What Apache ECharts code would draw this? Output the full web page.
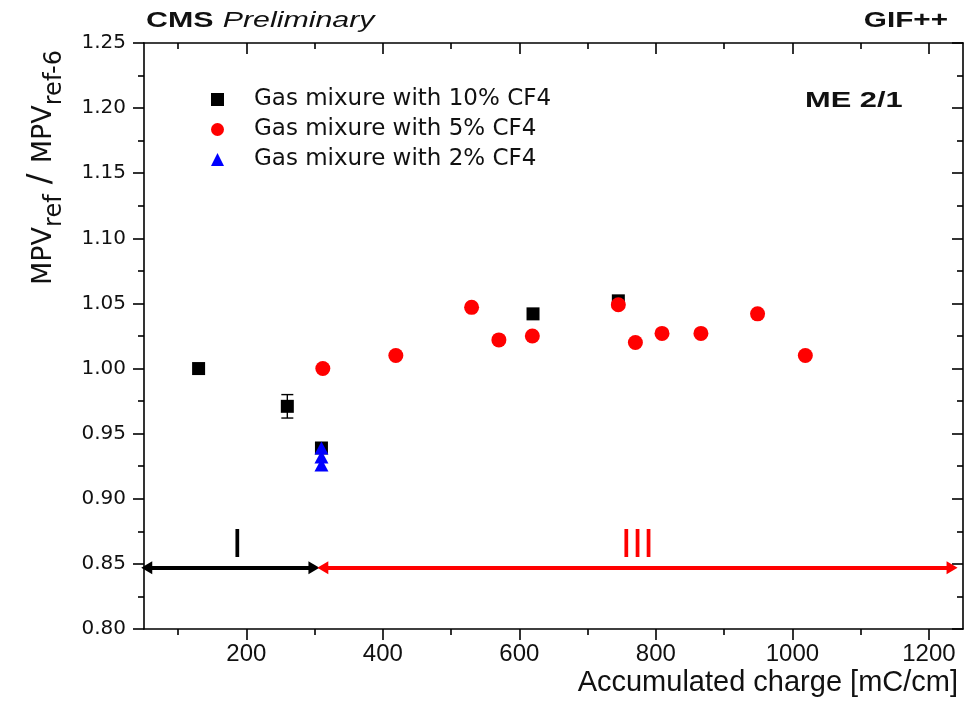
<!DOCTYPE html>
<html>
<head>
<meta charset="utf-8">
<script src="https://cdn.jsdelivr.net/npm/echarts@6/dist/echarts.min.js"></script>
<style>html,body{margin:0;padding:0;background:#fff}#c{width:966px;height:704px}</style>
</head>
<body>
<div id="c"></div>
<script>
// ---- data ----
const xMajorTicks = [200, 400, 600, 800, 1000, 1200];
const xMinorTicks = [100, 300, 500, 700, 900, 1100];
const cf4_10_x = [130, 260, 310, 620, 745];
const cf4_10_y = [1.000, 0.971, 0.939, 1.042, 1.052];
const cf4_10_err = [0, 0.009, 0, 0, 0];
const cf4_5_x = [312, 419, 530, 570, 619, 745, 770, 809, 866, 949, 1019];
const cf4_5_y = [1.000, 1.010, 1.047, 1.022, 1.025, 1.049, 1.020, 1.027, 1.027, 1.042, 1.010];
const cf4_2_x = [310, 310, 310];
const cf4_2_y = [0.939, 0.932, 0.926];
const phaseI = [54, 299];
const phaseIII = [312, 1234];
const phaseY = 0.847;
const seriesNames = ['Gas mixure with 10% CF4', 'Gas mixure with 5% CF4', 'Gas mixure with 2% CF4'];

const FONT = '"Liberation Sans", Arial, sans-serif';
const WFONT = '"DejaVu Sans", "Liberation Sans", sans-serif';
const NFONT = '"Liberation Sans Narrow", "Liberation Sans", Arial, sans-serif';
const zip = (xs, ys) => xs.map((x, i) => [x, ys[i]]);

const chart = echarts.init(document.getElementById('c'), null, {renderer: 'canvas'});
const axisLine = {show: true, onZero: false, lineStyle: {color: '#000', width: 1.6}};
const xCommon = {type: 'value', min: 50, max: 1250, splitLine: {show: false}};
const tickStyle = {color: '#000', width: 1.6};
const option = {
  animation: false,
  backgroundColor: '#fff',
  grid: {left: 144, right: 3, top: 43, bottom: 75, containLabel: false},
  xAxis: [
    Object.assign({}, xCommon, {position: 'bottom', axisLine: axisLine,
      axisTick: {show: true, inside: false, length: 11, customValues: xMajorTicks, lineStyle: tickStyle},
      axisLabel: {show: true, customValues: xMajorTicks, color: '#111', fontFamily: NFONT, fontSize: 24, margin: 13,
        formatter: v => String(v)}}),
    Object.assign({}, xCommon, {position: 'bottom', axisLine: {show: false},
      axisTick: {show: true, inside: false, length: 6, customValues: xMinorTicks, lineStyle: tickStyle},
      axisLabel: {show: false}}),
    Object.assign({}, xCommon, {position: 'top', axisLine: axisLine,
      axisTick: {show: true, inside: true, length: 11, customValues: xMajorTicks, lineStyle: tickStyle},
      axisLabel: {show: false}}),
    Object.assign({}, xCommon, {position: 'top', axisLine: {show: false},
      axisTick: {show: true, inside: true, length: 6, customValues: xMinorTicks, lineStyle: tickStyle},
      axisLabel: {show: false}})
  ],
  yAxis: [
    {type: 'value', position: 'left', min: 0.8, max: 1.25, interval: 0.05, splitLine: {show: false},
     axisLine: axisLine,
     axisTick: {show: true, inside: false, length: 11, lineStyle: tickStyle},
     minorTick: {show: true, splitNumber: 2, length: 6, lineStyle: tickStyle},
     axisLabel: {color: '#111', fontFamily: WFONT, fontSize: 20, margin: 18, formatter: v => v.toFixed(2)}},
    {type: 'value', position: 'right', min: 0.8, max: 1.25, interval: 0.05, splitLine: {show: false},
     axisLine: axisLine,
     axisTick: {show: true, inside: true, length: 11, lineStyle: tickStyle},
     minorTick: {show: true, splitNumber: 2, length: 6, lineStyle: tickStyle},
     axisLabel: {show: false}}
  ],
  legend: {
    orient: 'vertical', left: 206, top: 83, itemGap: 7, itemWidth: 13, itemHeight: 13,
    data: [
      {name: seriesNames[0], icon: 'rect'},
      {name: seriesNames[1], icon: 'circle'},
      {name: seriesNames[2], icon: 'triangle'}
    ],
    textStyle: {color: '#111', fontFamily: WFONT, fontSize: 23, padding: [0, 0, 0, 25]}
  },
  series: [
    {type: 'custom', name: 'err10', silent: true, z: 1,
     data: cf4_10_x.map((x, i) => [x, cf4_10_y[i], cf4_10_err[i]]).filter(d => d[2] > 0),
     renderItem: function (params, api) {
       const x = api.value(0), y = api.value(1), e = api.value(2);
       const top = api.coord([x, y + e]);
       const bot = api.coord([x, y - e]);
       const hw = 6;
       const st = {stroke: '#000', lineWidth: 1.4};
       return {type: 'group', children: [
         {type: 'line', shape: {x1: top[0], y1: top[1], x2: bot[0], y2: bot[1]}, style: st},
         {type: 'line', shape: {x1: top[0] - hw, y1: top[1], x2: top[0] + hw, y2: top[1]}, style: st},
         {type: 'line', shape: {x1: bot[0] - hw, y1: bot[1], x2: bot[0] + hw, y2: bot[1]}, style: st}
       ]};
     }},
    {type: 'scatter', name: seriesNames[0], data: zip(cf4_10_x, cf4_10_y), symbol: 'rect', symbolSize: 13,
     itemStyle: {color: '#000', opacity: 1}, z: 2},
    {type: 'scatter', name: seriesNames[1], data: zip(cf4_5_x, cf4_5_y), symbol: 'circle', symbolSize: 15,
     itemStyle: {color: '#ff0000', opacity: 1}, z: 3},
    {type: 'scatter', name: seriesNames[2], data: zip(cf4_2_x, cf4_2_y), symbol: 'triangle', symbolSize: [14, 13],
     itemStyle: {color: '#0000ff', opacity: 1}, z: 4},
    {type: 'line', name: 'phases', data: [], silent: true,
     markLine: {silent: true, symbol: ['triangle', 'triangle'], symbolSize: [13, 11], animation: false,
       data: [
         [{coord: [phaseI[0], phaseY], lineStyle: {color: '#000', width: 4, type: 'solid'},
           label: {show: true, position: 'middle', formatter: 'I', color: '#000', fontFamily: FONT, fontSize: 40,
             distance: 2, padding: [0, 0, 0, 14]}},
          {coord: [phaseI[1], phaseY]}],
         [{coord: [phaseIII[0], phaseY], lineStyle: {color: '#ff0000', width: 4, type: 'solid'},
           label: {show: true, position: 'middle', formatter: 'III', color: '#ff0000', fontFamily: FONT, fontSize: 40, distance: 2}},
          {coord: [phaseIII[1], phaseY]}]
       ]}}
  ],
  graphic: [
    {type: 'text', x: 146, y: 10, scaleX: 1.38, style: {
      text: '{b|CMS}  {i|Preliminary}', rich: {
        b: {fontFamily: FONT, fontWeight: 'bold', fontSize: 22, fill: '#111'},
        i: {fontFamily: FONT, fontStyle: 'italic', fontSize: 22, fill: '#111'}}}},
    {type: 'text', x: 948, y: 10, scaleX: 1.35, style: {text: 'GIF++', align: 'right', fontFamily: FONT, fontWeight: 'bold', fontSize: 22, fill: '#111'}},
    {type: 'text', x: 805, y: 90, scaleX: 1.4, style: {text: 'ME 2/1', fontFamily: FONT, fontWeight: 'bold', fontSize: 22, fill: '#111'}},
    {type: 'text', x: 958, y: 668, style: {text: 'Accumulated charge [mC/cm]', align: 'right', fontFamily: FONT, fontSize: 29, fill: '#111'}},
    {type: 'text', x: 57, y: 285, rotation: Math.PI / 2, style: {
      text: '{m|MPV}{s|ref}{l| / }{m|MPV}{s|ref-6}', textVerticalAlign: 'bottom', rich: {
        m: {fontFamily: WFONT, fontSize: 27, fill: '#111', verticalAlign: 'bottom'},
        l: {fontFamily: WFONT, fontSize: 32, fill: '#111', verticalAlign: 'bottom'},
        s: {fontFamily: WFONT, fontSize: 24, fill: '#111', verticalAlign: 'bottom', padding: [0, 0, -10, 0]}}}}
  ]
};
chart.setOption(option);
</script>
</body>
</html>
